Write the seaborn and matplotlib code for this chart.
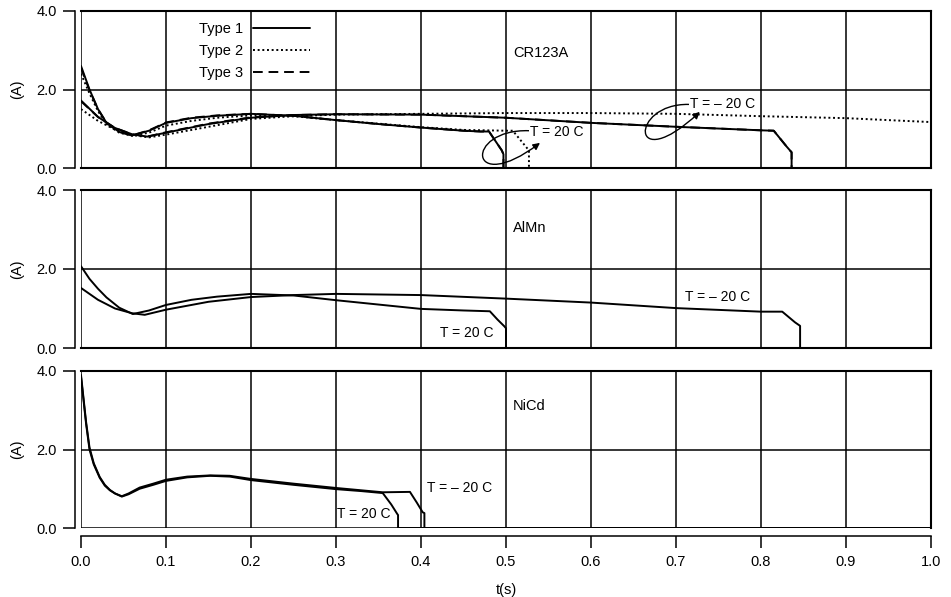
import numpy as np
import matplotlib
matplotlib.use("Agg")
import matplotlib.pyplot as plt
import seaborn as sns
from matplotlib.lines import Line2D
from matplotlib.path import Path
from matplotlib.patches import FancyArrowPatch

# ---------------- data ----------------
x_ticks = [0.0, 0.1, 0.2, 0.3, 0.4, 0.5, 0.6, 0.7, 0.8, 0.9, 1.0]
y_ticks = [0.0, 2.0, 4.0]
panel_names = ["CR123A", "AlMn", "NiCd"]
legend_labels = ["Type 1", "Type 2", "Type 3"]

# CR123A, Type 1, T = 20 C
cr_t1_20_t = [0, 0.01, 0.02, 0.03, 0.045, 0.06, 0.08, 0.1, 0.13, 0.16, 0.2, 0.25, 0.3, 0.35, 0.4, 0.45, 0.47, 0.48, 0.495, 0.497, 0.497, 1.0]
cr_t1_20_v = [2.6, 2.0, 1.5, 1.15, 0.92, 0.83, 0.95, 1.15, 1.27, 1.33, 1.38, 1.33, 1.22, 1.12, 1.03, 0.95, 0.93, 0.93, 0.45, 0.35, 0.0, 0.0]
# CR123A, Type 1, T = -20 C
cr_t1_m20_t = [0, 0.02, 0.04, 0.06, 0.078, 0.1, 0.15, 0.2, 0.25, 0.3, 0.4, 0.5, 0.6, 0.7, 0.8, 0.815, 0.83, 0.836, 0.836, 1.0]
cr_t1_m20_v = [1.72, 1.3, 1.02, 0.86, 0.8, 0.9, 1.12, 1.28, 1.35, 1.37, 1.36, 1.28, 1.15, 1.05, 0.96, 0.95, 0.55, 0.4, 0.0, 0.0]
# CR123A, Type 2, T = 20 C
cr_t2_20_t = [0, 0.01, 0.02, 0.03, 0.045, 0.06, 0.08, 0.1, 0.13, 0.16, 0.2, 0.25, 0.3, 0.35, 0.4, 0.45, 0.5, 0.508, 0.525, 0.527, 0.527, 1.0]
cr_t2_20_v = [2.4, 1.9, 1.45, 1.12, 0.9, 0.82, 0.9, 1.08, 1.2, 1.28, 1.34, 1.32, 1.22, 1.13, 1.04, 0.97, 0.95, 0.95, 0.5, 0.45, 0.0, 0.0]
# CR123A, Type 2, T = -20 C
cr_t2_m20_t = [0, 0.02, 0.04, 0.06, 0.08, 0.1, 0.15, 0.2, 0.25, 0.3, 0.4, 0.5, 0.6, 0.7, 0.8, 0.9, 1.0]
cr_t2_m20_v = [1.5, 1.2, 0.98, 0.84, 0.78, 0.85, 1.05, 1.25, 1.32, 1.36, 1.38, 1.40, 1.40, 1.38, 1.32, 1.27, 1.17]
# CR123A, Type 3 (overlapping Type 1)
cr_t3_20_t = [0, 0.01, 0.02, 0.03, 0.045, 0.06, 0.08, 0.1, 0.13, 0.16, 0.2, 0.25, 0.3, 0.35, 0.4, 0.45, 0.47, 0.48, 0.495, 0.497, 0.497, 1.0]
cr_t3_20_v = [2.55, 1.98, 1.5, 1.15, 0.92, 0.83, 0.96, 1.16, 1.28, 1.34, 1.38, 1.33, 1.22, 1.12, 1.03, 0.95, 0.93, 0.93, 0.45, 0.35, 0.0, 0.0]
cr_t3_m20_t = [0, 0.02, 0.04, 0.06, 0.078, 0.1, 0.15, 0.2, 0.25, 0.3, 0.4, 0.5, 0.6, 0.7, 0.8, 0.815, 0.83, 0.836, 0.836, 1.0]
cr_t3_m20_v = [1.7, 1.3, 1.02, 0.86, 0.8, 0.91, 1.13, 1.29, 1.35, 1.37, 1.36, 1.28, 1.15, 1.05, 0.96, 0.95, 0.55, 0.4, 0.0, 0.0]

# AlMn
al_20_t = [0, 0.01, 0.02, 0.03, 0.045, 0.061, 0.08, 0.1, 0.13, 0.16, 0.2, 0.25, 0.3, 0.35, 0.4, 0.45, 0.481, 0.49, 0.498, 0.5, 0.5, 1.0]
al_20_v = [2.07, 1.75, 1.5, 1.28, 1.02, 0.86, 0.95, 1.09, 1.22, 1.3, 1.37, 1.33, 1.21, 1.1, 0.99, 0.95, 0.93, 0.72, 0.55, 0.5, 0.0, 0.0]
al_m20_t = [0, 0.02, 0.04, 0.06, 0.075, 0.1, 0.15, 0.2, 0.25, 0.3, 0.4, 0.5, 0.6, 0.7, 0.8, 0.825, 0.84, 0.846, 0.846, 1.0]
al_m20_v = [1.52, 1.22, 1.0, 0.88, 0.84, 0.97, 1.17, 1.29, 1.34, 1.37, 1.34, 1.25, 1.15, 1.01, 0.92, 0.92, 0.65, 0.56, 0.0, 0.0]

# NiCd
ni_20_t = [0, 0.003, 0.006, 0.01, 0.015, 0.022, 0.028, 0.034, 0.04, 0.048, 0.056, 0.069, 0.085, 0.1, 0.125, 0.152, 0.175, 0.2, 0.25, 0.3, 0.33, 0.355, 0.365, 0.372, 0.373, 0.373, 1.0]
ni_20_v = [3.9, 3.3, 2.7, 2.05, 1.65, 1.3, 1.1, 0.97, 0.88, 0.8, 0.86, 1.0, 1.1, 1.2, 1.29, 1.33, 1.31, 1.22, 1.1, 0.99, 0.94, 0.89, 0.6, 0.36, 0.33, 0.0, 0.0]
ni_m20_t = [0, 0.003, 0.006, 0.01, 0.015, 0.022, 0.028, 0.034, 0.04, 0.048, 0.056, 0.069, 0.085, 0.1, 0.125, 0.152, 0.175, 0.2, 0.25, 0.3, 0.33, 0.355, 0.387, 0.395, 0.402, 0.404, 0.404, 1.0]
ni_m20_v = [3.85, 3.25, 2.65, 2.0, 1.62, 1.28, 1.08, 0.96, 0.88, 0.81, 0.88, 1.03, 1.13, 1.23, 1.31, 1.34, 1.33, 1.25, 1.13, 1.02, 0.96, 0.91, 0.92, 0.65, 0.4, 0.38, 0.0, 0.0]

# ---------------- styling ----------------
sns.set_theme(style="white")
plt.rcParams["font.family"] = ["Liberation Sans", "DejaVu Sans"]
plt.rcParams["font.size"] = 10.5
for k in ["text.color", "axes.labelcolor", "xtick.color", "ytick.color", "axes.edgecolor"]:
    plt.rcParams[k] = "black"

FS = 10.5
FS_T = 10
LW = 1.4
SOLID = "-"
DOTTED = (0, (1, 1.4))
DASHED = (0, (5, 3))

fig = plt.figure(figsize=(9.51, 5.97), dpi=100)
L = 81 / 951
W = 850 / 951
bounds = [(11, 168), (190, 348), (371, 528)]
axes = []
for top, bot in bounds:
    axes.append(fig.add_axes([L, 1 - bot / 597, W, (bot - top) / 597]))


def draw(ax, t, v, ls):
    sns.lineplot(x=t, y=v, ax=ax, color="black", linewidth=LW, linestyle=ls,
                 sort=False, estimator=None, legend=False, zorder=3)


# CR123A
draw(axes[0], cr_t2_m20_t, cr_t2_m20_v, DOTTED)
draw(axes[0], cr_t2_20_t, cr_t2_20_v, DOTTED)
draw(axes[0], cr_t3_m20_t, cr_t3_m20_v, DASHED)
draw(axes[0], cr_t3_20_t, cr_t3_20_v, DASHED)
draw(axes[0], cr_t1_m20_t, cr_t1_m20_v, SOLID)
draw(axes[0], cr_t1_20_t, cr_t1_20_v, SOLID)
# AlMn
draw(axes[1], al_m20_t, al_m20_v, SOLID)
draw(axes[1], al_20_t, al_20_v, SOLID)
# NiCd
draw(axes[2], ni_m20_t, ni_m20_v, SOLID)
draw(axes[2], ni_20_t, ni_20_v, SOLID)

name_y = [2.93, 3.05, 3.1]
for i, ax in enumerate(axes):
    ax.set_xlim(0, 1)
    ax.set_ylim(0, 4)
    ax.set_xticks(x_ticks)
    ax.set_yticks(y_ticks)
    ax.set_yticklabels([f"{y:.1f}" for y in y_ticks])
    ax.grid(True, color="black", linewidth=1.1, zorder=1)
    ax.set_axisbelow(True)
    for s in ax.spines.values():
        s.set_color("black")
        s.set_linewidth(1.5)
    ax.spines["left"].set_position(("outward", 4))
    ax.spines["left"].set_linewidth(1.1)
    ax.tick_params(axis="y", left=True, direction="out", length=8.5, width=1.1,
                   color="black", pad=5, labelsize=FS)
    ax.set_ylabel("(A)", fontsize=FS, labelpad=9)
    ax.set_xlabel("")
    ax.text(0.508, name_y[i], panel_names[i], fontsize=FS, ha="left", va="center")
    if i < 2:
        ax.tick_params(axis="x", bottom=False, labelbottom=False)
    else:
        ax.spines["bottom"].set_position(("outward", 6))
        ax.spines["bottom"].set_linewidth(1.1)
        ax.tick_params(axis="x", bottom=True, direction="out", length=8.5, width=1.1,
                       color="black", pad=5, labelsize=FS)
        ax.set_xticklabels([f"{x:.1f}" for x in x_ticks])
        ax.set_xlabel("t(s)", fontsize=FS, labelpad=10)

# legend
handles = [Line2D([], [], color="black", lw=LW, ls=SOLID),
           Line2D([], [], color="black", lw=LW, ls=DOTTED),
           Line2D([], [], color="black", lw=LW, ls=DASHED)]
axes[0].legend(handles, legend_labels, loc="upper left", bbox_to_anchor=(0.139, 0.93),
               frameon=False, markerfirst=False, handlelength=3.9, labelspacing=0.55,
               fontsize=FS, borderaxespad=0, borderpad=0, handletextpad=0.7)

# annotations
ax0 = axes[0]
ax0.text(0.528, 0.92, "T = 20 C", fontsize=FS_T, ha="left", va="center", zorder=5,
         bbox=dict(facecolor="white", edgecolor="none", pad=0.5))
ax0.text(0.716, 1.62, "T = \u2013 20 C", fontsize=FS_T, ha="left", va="center", zorder=5,
         bbox=dict(facecolor="white", edgecolor="none", pad=0.5))
loop20 = Path([(0.527, 0.95), (0.45, 1.0), (0.455, -0.75), (0.54, 0.64)],
              [Path.MOVETO, Path.CURVE4, Path.CURVE4, Path.CURVE4])
ax0.add_patch(FancyArrowPatch(path=loop20, arrowstyle="-|>", mutation_scale=10,
                              color="black", lw=1.0, zorder=4))
loopm20 = Path([(0.715, 1.62), (0.645, 1.65), (0.645, -0.25), (0.728, 1.43)],
               [Path.MOVETO, Path.CURVE4, Path.CURVE4, Path.CURVE4])
ax0.add_patch(FancyArrowPatch(path=loopm20, arrowstyle="-|>", mutation_scale=10,
                              color="black", lw=1.0, zorder=4))

axes[1].text(0.711, 1.29, "T = \u2013 20 C", fontsize=FS_T, ha="left", va="center")
axes[1].text(0.422, 0.38, "T = 20 C", fontsize=FS_T, ha="left", va="center")
axes[2].text(0.407, 1.02, "T = \u2013 20 C", fontsize=FS_T, ha="left", va="center")
axes[2].text(0.301, 0.36, "T = 20 C", fontsize=FS_T, ha="left", va="center")

fig.savefig("out.png", dpi=100, facecolor="white")
